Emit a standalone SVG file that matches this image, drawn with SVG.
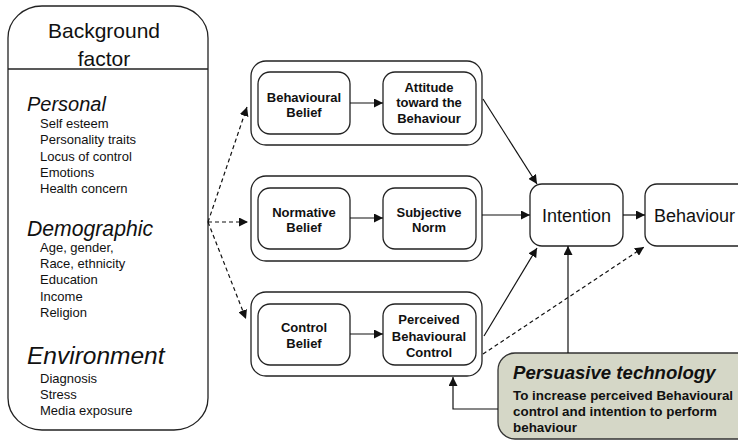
<svg xmlns="http://www.w3.org/2000/svg" width="738" height="444" viewBox="0 0 738 444">
<defs>
<style>
.box{fill:#fff;stroke:#222;stroke-width:1.3}
.t{font-family:"Liberation Sans",Arial,sans-serif;fill:#111}
.it{font-style:italic}
.item{font-size:13px}
.b{font-weight:bold;font-size:13px;text-anchor:middle}
.ln{stroke:#111;stroke-width:1.2;fill:none}
.dash{stroke-dasharray:4 3}
</style>
<marker id="ah" viewBox="0 0 10 10" refX="10" refY="5" markerWidth="9" markerHeight="9" markerUnits="userSpaceOnUse" orient="auto">
<path d="M0,0 L10,5 L0,10 z" fill="#111"/>
</marker>
</defs>
<rect width="738" height="444" fill="#fff"/>

<g id="background">
<rect class="box" x="8" y="6" width="200" height="424" rx="34" ry="32"/>
<line x1="8" y1="69" x2="208" y2="69" stroke="#222" stroke-width="1.3"/>
<text class="t" x="104" y="38" font-size="21" text-anchor="middle">Background</text>
<text class="t" x="104" y="66" font-size="21" text-anchor="middle">factor</text>
<text class="t it" x="27" y="111" font-size="20">Personal</text>
<text class="t item" x="40" y="128">Self esteem</text>
<text class="t item" x="40" y="144">Personality traits</text>
<text class="t item" x="40" y="161">Locus of control</text>
<text class="t item" x="40" y="177">Emotions</text>
<text class="t item" x="40" y="193">Health concern</text>
<text class="t it" x="27" y="236" font-size="21.2">Demographic</text>
<text class="t item" x="40" y="252">Age, gender,</text>
<text class="t item" x="40" y="268">Race, ethnicity</text>
<text class="t item" x="40" y="284">Education</text>
<text class="t item" x="40" y="301">Income</text>
<text class="t item" x="40" y="317">Religion</text>
<text class="t it" x="27" y="364" font-size="24.5">Environment</text>
<text class="t item" x="40" y="383">Diagnosis</text>
<text class="t item" x="40" y="399">Stress</text>
<text class="t item" x="40" y="415">Media exposure</text>
</g>

<g id="group-attitude">
<rect class="box" x="251" y="61" width="231" height="84" rx="15"/>
</g>
<g id="behavioural-belief">
<rect class="box" x="258" y="72" width="92" height="62" rx="12"/>
<text class="t b" x="304" y="102">Behavioural</text>
<text class="t b" x="304" y="117">Belief</text>
</g>
<g id="attitude">
<rect class="box" x="383" y="72" width="93" height="62" rx="12"/>
<text class="t b" x="429" y="92">Attitude</text>
<text class="t b" x="429" y="107">toward the</text>
<text class="t b" x="429" y="123">Behaviour</text>
</g>

<g id="group-norm">
<rect class="box" x="251" y="176" width="231" height="85" rx="15"/>
</g>
<g id="normative-belief">
<rect class="box" x="258" y="188" width="92" height="61" rx="12"/>
<text class="t b" x="304" y="217">Normative</text>
<text class="t b" x="304" y="232">Belief</text>
</g>
<g id="subjective-norm">
<rect class="box" x="383" y="188" width="93" height="61" rx="12"/>
<text class="t b" x="429" y="217">Subjective</text>
<text class="t b" x="429" y="232">Norm</text>
</g>

<g id="group-control">
<rect class="box" x="251" y="292" width="231" height="84" rx="15"/>
</g>
<g id="control-belief">
<rect class="box" x="258" y="304" width="92" height="61" rx="12"/>
<text class="t b" x="304" y="332">Control</text>
<text class="t b" x="304" y="348">Belief</text>
</g>
<g id="pbc">
<rect class="box" x="383" y="304" width="93" height="61" rx="12"/>
<text class="t b" x="429" y="324">Perceived</text>
<text class="t b" x="429" y="341">Behavioural</text>
<text class="t b" x="429" y="357">Control</text>
</g>

<g id="intention">
<rect class="box" x="530" y="184" width="93" height="62" rx="12"/>
<text class="t" x="576.5" y="222" font-size="18" text-anchor="middle">Intention</text>
</g>
<g id="behaviour">
<rect class="box" x="645" y="184" width="110" height="62" rx="12"/>
<text class="t" x="654" y="222" font-size="18">Behaviour</text>
</g>

<g id="persuasive">
<rect x="498" y="353" width="262" height="86" rx="17" fill="#d5d7c7" stroke="#333" stroke-width="1.3"/>
<text class="t" x="513" y="379" font-size="18.6" font-weight="bold" font-style="italic">Persuasive technology</text>
<text class="t" x="513" y="400" font-size="13.4" font-weight="bold">To increase perceived Behavioural</text>
<text class="t" x="513" y="416" font-size="13.4" font-weight="bold">control and intention to perform</text>
<text class="t" x="513" y="432" font-size="13.4" font-weight="bold">behaviour</text>
</g>

<g id="connectors">
<path class="ln dash" d="M208,222 L247,107" marker-end="url(#ah)"/>
<path class="ln dash" d="M208,222 L248,222" marker-end="url(#ah)"/>
<path class="ln dash" d="M208,222 L246,319" marker-end="url(#ah)"/>
<path class="ln" d="M350,103 L383,103" marker-end="url(#ah)"/>
<path class="ln" d="M350,218 L383,218" marker-end="url(#ah)"/>
<path class="ln" d="M350,334 L383,334" marker-end="url(#ah)"/>
<path class="ln" d="M483,99 L537,184" marker-end="url(#ah)"/>
<path class="ln" d="M482,215 L530,215" marker-end="url(#ah)"/>
<path class="ln" d="M484,336 L537,248" marker-end="url(#ah)"/>
<path class="ln dash" d="M483,354 L644,247" marker-end="url(#ah)"/>
<path class="ln" d="M623,215 L645,215" marker-end="url(#ah)"/>
<path class="ln" d="M568,353 L568,246" marker-end="url(#ah)"/>
<path class="ln" d="M498,409 L453,409 L453,377" marker-end="url(#ah)"/>
</g>
</svg>
